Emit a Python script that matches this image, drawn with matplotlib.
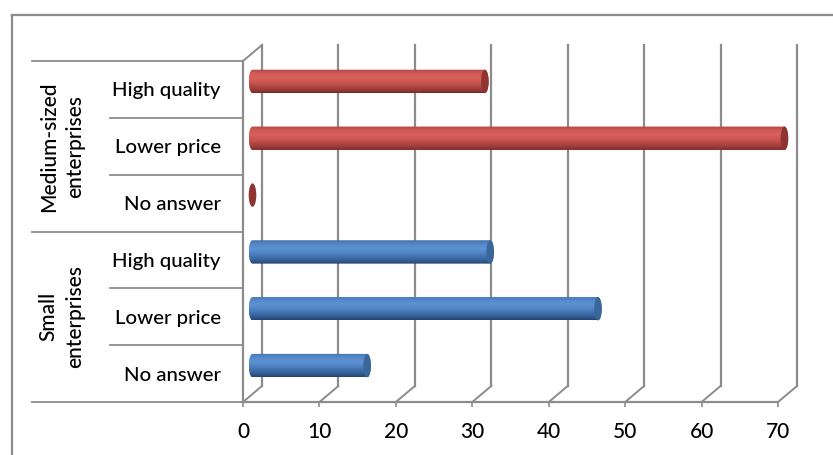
import numpy as np
import matplotlib
matplotlib.use("Agg")
import matplotlib.pyplot as plt
from matplotlib.patches import Polygon, Ellipse
from matplotlib.lines import Line2D
from matplotlib.colors import to_rgb
from matplotlib.transforms import blended_transform_factory

# data
groups = ["Small\nenterprises", "Medium-sized\nenterprises"]
answers = ["No answer", "Lower price", "High quality"]
small_vals = [15.0, 45.2, 31.1]
medium_vals = [0.0, 69.6, 30.4]
xticks = [0, 10, 20, 30, 40, 50, 60, 70]

plt.rcParams['font.family'] = ['Lato', 'DejaVu Sans']
plt.rcParams['font.weight'] = 'medium'

W, H = 833, 455
# plot box (front plane) in pixels
L, R, T, B = 243, 778, 61, 402
XMAX = 70
NCAT = 6
px_x = (R - L) / XMAX
px_y = (B - T) / NCAT
dxu = 19 / px_x          # depth offset of back wall
dyu = 16 / px_y
bar_h = 11.7 / px_y
cap_w = 3.8 / px_x
grey = '#8c8c8c'

red_stops = [(0, '#b44846'), (0.15, '#cc5855'), (0.35, '#da615d'),
             (0.6, '#c5514e'), (0.85, '#a03c3a'), (1.0, '#7c2b29')]
blue_stops = [(0, '#4474b0'), (0.15, '#5386c6'), (0.35, '#5e93d3'),
              (0.6, '#4a7dbb'), (0.85, '#33609a'), (1.0, '#25446e')]


def grad(stops, n=64):
    t = np.linspace(0, 1, n)
    pos = [s[0] for s in stops]
    cols = np.array([to_rgb(s[1]) for s in stops])
    img = np.stack([np.interp(t, pos, cols[:, k]) for k in range(3)], axis=-1)
    return img[:, None, :]


def cylinder(ax, y, v, stops, capcol):
    x0 = dxu / 2
    x1 = x0 + v
    yc = y + dyu / 2
    if v > 0:
        a = np.linspace(np.pi / 2, 3 * np.pi / 2, 40)
        left = np.c_[x0 + cap_w * np.cos(a), yc + bar_h * np.sin(a)]
        a2 = np.linspace(-np.pi / 2, np.pi / 2, 40)
        right = np.c_[x1 + cap_w * np.cos(a2), yc + bar_h * np.sin(a2)]
        poly = Polygon(np.vstack([left, right]), closed=True,
                       facecolor='none', edgecolor='none', zorder=3, clip_on=False)
        ax.add_patch(poly)
        im = ax.imshow(grad(stops), extent=[x0 - cap_w, x1 + cap_w, yc - bar_h, yc + bar_h],
                       aspect='auto', interpolation='bilinear', zorder=3)
        im.set_clip_path(poly)
        im.set_clip_box(fig.bbox)
    ax.add_patch(Ellipse((x1, yc), 2 * cap_w, 2 * bar_h, facecolor=capcol,
                         edgecolor='none', zorder=4, clip_on=False))


fig = plt.figure(figsize=(W / 100, H / 100), dpi=100)
ax = fig.add_axes([L / W, 1 - B / H, (R - L) / W, (B - T) / H])
ax.set_autoscale_on(False)
ax.set_xlim(0, XMAX)
ax.set_ylim(0, NCAT)

# back wall gridlines + floor diagonals
for xv in xticks:
    ax.plot([xv + dxu, xv + dxu], [dyu, NCAT + dyu], color=grey, lw=1.6,
            clip_on=False, zorder=1)
    ax.plot([xv, xv + dxu], [0, dyu], color=grey, lw=1.4, clip_on=False, zorder=1)
ax.plot([0, dxu], [NCAT, NCAT + dyu], color=grey, lw=1.4, clip_on=False, zorder=1)

# bars
vals = small_vals + medium_vals
for i, v in enumerate(vals):
    if i < 3:
        cylinder(ax, i + 0.5, v, blue_stops, '#3b6699')
    else:
        cylinder(ax, i + 0.5, v, red_stops, '#8e3431')

# axes / spines
for s in ['top', 'right']:
    ax.spines[s].set_visible(False)
for s in ['left', 'bottom']:
    ax.spines[s].set_color(grey)
    ax.spines[s].set_linewidth(1.6)
ax.set_xticks(xticks)
ax.set_xticklabels([str(x) for x in xticks], fontsize=15)
ax.tick_params(axis='x', direction='out', length=3.5, color=grey, width=1.2, pad=11)
ax.set_yticks(np.arange(NCAT) + 0.5)
ax.set_yticklabels(answers * 2, fontsize=14.7)
ax.tick_params(axis='y', length=0, pad=16)
ax.set_facecolor('none')

# category separators
bt = blended_transform_factory(ax.transAxes, ax.transData)
for j in range(NCAT + 1):
    start = (32 - L) / (R - L) if j % 3 == 0 else (110 - L) / (R - L)
    ax.plot([start, 0], [j, j], color=grey, lw=1.3, transform=bt, clip_on=False)

# group labels
for g, name in enumerate(groups):
    ax.text((62 - L) / (R - L), g * 3 + 1.5, name, transform=bt, rotation=90,
            ha='center', va='center', multialignment='center', fontsize=15,
            linespacing=1.4)

# chart border
fig.add_artist(Line2D([12 / W, 12 / W], [0, 1 - 15 / H], color=grey, lw=1.6))
fig.add_artist(Line2D([12 / W, 1], [1 - 15 / H, 1 - 15 / H], color=grey, lw=1.6))

fig.savefig('out.png', dpi=100)
